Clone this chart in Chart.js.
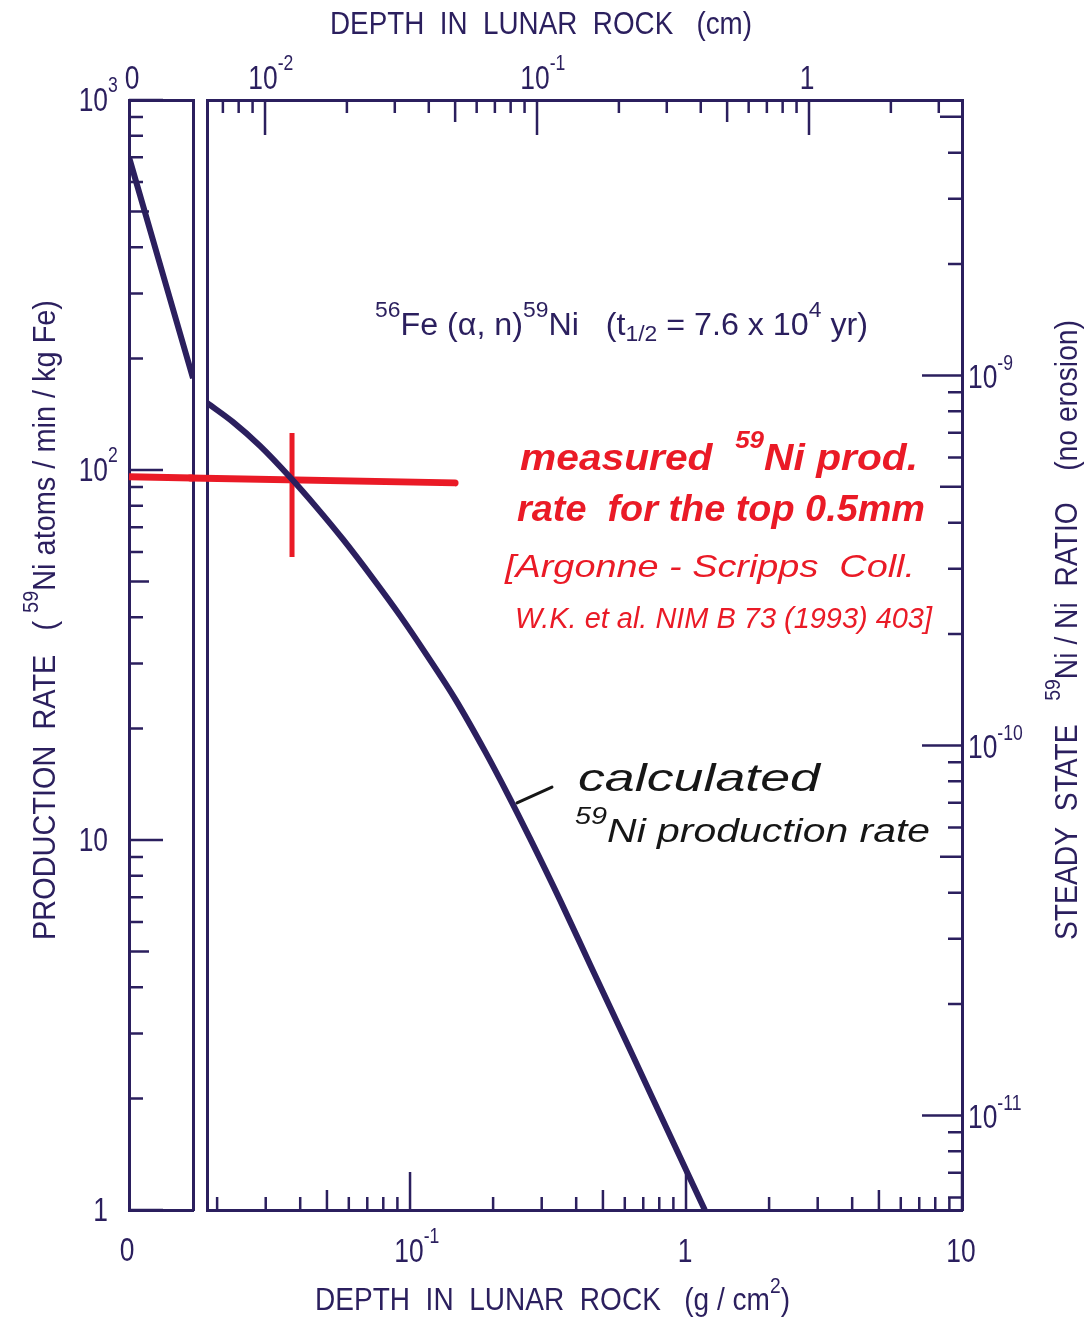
<!DOCTYPE html>
<html>
<head>
<meta charset="utf-8">
<script src="https://cdn.jsdelivr.net/npm/chart.js@4.4.1/dist/chart.umd.min.js"></script>
<style>
  html, body { margin: 0; padding: 0; background: #ffffff; }
  #wrap { position: relative; width: 1088px; height: 1322px; background: #ffffff; }
  #wrap canvas { position: absolute; left: 0; top: 0; }
</style>
</head>
<body>
<div id="wrap">
  <canvas id="cL" width="1088" height="1322"></canvas>
  <canvas id="cR" width="1088" height="1322"></canvas>
</div>
<script>
// ---------------- DATA ----------------
// Surface panel (linear depth, g/cm^2)
const panelDepth = [0, 0.002, 0.004];
const panelRate  = [701, 352, 177];
// Main panel: calculated 59Ni production rate vs depth (g/cm^2)
const depth = [0.0184, 0.0228, 0.0286, 0.0367, 0.046, 0.0572, 0.0734, 0.092, 0.115, 0.146, 0.187, 0.2265, 0.2721, 0.3496, 0.449, 0.627, 0.875, 1.17];
const rate  = [151.8, 134.9, 116.2, 95.7, 79.0, 64.9, 50.9, 40.4, 31.6, 24.0, 17.36, 13.25, 10.1, 6.88, 4.61, 2.71, 1.59, 1.0];
// Measured production rate (red cross)
const measDepthPanel = [0, 0.004];
const measRatePanel  = [95.9, 95.2];
const measDepth = [0.01595, 0.1456];
const measRate  = [95.2, 92.3];
const measErrDepth = [0.03736, 0.03736];
const measErrRate  = [125.9, 58.2];
// Pointer stroke of the "calculated" note
const pointerDepth = [0.2442, 0.3268];
const pointerRate  = [12.6, 13.9];

// Tick values and labels
const rateTicks = [1, 10, 100, 1000];
const rateTickLabels = [['1', ''], ['10', ''], ['10', '2'], ['10', '3']];
const rateMedium = [5, 50, 500];
const rateMinor = [2, 3, 4, 6, 7, 8, 9, 20, 30, 40, 60, 70, 80, 90, 200, 300, 400, 600, 700, 800, 900];

const gcmTicks = [0.1, 1, 10];
const gcmTickLabels = [['10', '-1'], ['1', ''], ['10', '']];
const gcmMedium = [0.05, 0.5, 5];
const gcmMinor = [0.02, 0.03, 0.04, 0.06, 0.07, 0.08, 0.09, 0.2, 0.3, 0.4, 0.6, 0.7, 0.8, 0.9, 2, 3, 4, 6, 7, 8, 9];

const cmTicks = [0.01, 0.1, 1];
const cmTickLabels = [['10', '-2'], ['10', '-1'], ['1', '']];
const cmMedium = [0.05, 0.5];
const cmMinor = [0.007, 0.008, 0.009, 0.02, 0.03, 0.04, 0.06, 0.07, 0.08, 0.09, 0.2, 0.3, 0.4, 0.6, 0.7, 0.8, 0.9, 2, 3];

const ratioTicks = [1e-9, 1e-10, 1e-11];
const ratioTickLabels = [['10', '-9'], ['10', '-10'], ['10', '-11']];
const ratioMedium = [5e-9, 5e-10, 5e-11];
const ratioMinor = [2e-9, 3e-9, 4e-9, 2e-10, 3e-10, 4e-10, 6e-10, 7e-10, 8e-10, 9e-10,
                    2e-11, 3e-11, 4e-11, 6e-11, 7e-11, 8e-11, 9e-11, 6e-12, 7e-12, 8e-12, 9e-12];

const panelTicks = [0];
const panelTickLabels = ['0'];

// ---------------- STYLE ----------------
const NAVY = '#2b1f5e';
const RED = '#ea1a26';
const INK = '#161616';
const FONT = '"Liberation Sans", Arial, sans-serif';

function drawRich(ctx, segs, o) {
  ctx.save();
  ctx.fillStyle = o.color || NAVY;
  ctx.textBaseline = 'middle';
  ctx.textAlign = 'left';
  const supK = o.supK || 0.68, supR = o.supR || 0.45;
  const fontOf = (k) => `${o.style || 'normal'} ${o.weight || 'normal'} ${Math.round(o.size * k)}px ${o.family || FONT}`;
  let nat = 0; const ws = [];
  for (const s of segs) {
    ctx.font = fontOf(s.v ? supK : 1);
    const w = ctx.measureText(s.t).width; ws.push(w); nat += w;
  }
  const sx = o.width ? o.width / nat : (o.sx || 1);
  const total = nat * sx;
  ctx.translate(o.x, o.y);
  if (o.rot) ctx.rotate(o.rot);
  const start = o.align === 'center' ? -total / 2 : (o.align === 'right' ? -total : 0);
  ctx.translate(start, 0);
  ctx.scale(sx, 1);
  let cx = 0;
  segs.forEach((s, i) => {
    ctx.font = fontOf(s.v ? supK : 1);
    const dy = s.v === 'sup' ? -o.size * supR : (s.v === 'sub' ? o.size * 0.3 : 0);
    ctx.fillText(s.t, cx, dy);
    cx += ws[i];
  });
  ctx.restore();
}

const TICK_SIZE = 33, TICK_SX = 0.8;
function drawPow(ctx, base, exp, x, y, anchor) {
  ctx.save();
  ctx.font = `${TICK_SIZE}px ${FONT}`;
  const bw = ctx.measureText(base).width * TICK_SX;
  ctx.restore();
  const left = anchor === 'center' ? x - bw / 2 : (anchor === 'right' ? x - bw : x);
  const segs = [{ t: base }];
  if (exp) segs.push({ t: exp, v: 'sup' });
  drawRich(ctx, segs, { x: left, y, size: TICK_SIZE, sx: TICK_SX, color: NAVY, align: 'left', supK: 0.68, supR: 0.48 });
}

function drawTicks(chart, scaleId, values, len, side) {
  const s = chart.scales[scaleId];
  const a = chart.chartArea;
  const ctx = chart.ctx;
  ctx.save();
  ctx.strokeStyle = NAVY;
  ctx.lineWidth = 2.5;
  ctx.beginPath();
  for (const v of values) {
    const p = s.getPixelForValue(v);
    if (side === 'bottom') { ctx.moveTo(p, a.bottom); ctx.lineTo(p, a.bottom - len); }
    if (side === 'top') { ctx.moveTo(p, a.top); ctx.lineTo(p, a.top + len); }
    if (side === 'left') { ctx.moveTo(a.left, p); ctx.lineTo(a.left + len, p); }
    if (side === 'right') { ctx.moveTo(a.right, p); ctx.lineTo(a.right - len, p); }
  }
  ctx.stroke();
  ctx.restore();
}

const hideTicks = { display: false };
const noGrid = { display: false };
const border = { display: true, color: NAVY, width: 3 };

// ---------------- LEFT (surface) PANEL ----------------
const leftDecor = {
  id: 'leftDecor',
  afterDraw(chart) {
    const ctx = chart.ctx, a = chart.chartArea;
    drawTicks(chart, 'y', rateTicks, 34, 'left');
    drawTicks(chart, 'y', rateMedium, 20, 'left');
    drawTicks(chart, 'y', rateMinor, 14, 'left');
    const y = chart.scales.y;
    rateTicks.forEach((v, i) => drawPow(ctx, rateTickLabels[i][0], rateTickLabels[i][1], a.left - 21, y.getPixelForValue(v) + 2, 'right'));
    const xb = chart.scales.x, xt = chart.scales.x2;
    panelTicks.forEach((v, i) => {
      drawPow(ctx, panelTickLabels[i], '', xb.getPixelForValue(v) - 2, a.bottom + 42, 'center');
      drawPow(ctx, panelTickLabels[i], '', xt.getPixelForValue(v) + 3, a.top - 20, 'center');
    });
    // Left axis title
    drawRich(ctx, [{ t: 'PRODUCTION  RATE   ( ' }, { t: '59', v: 'sup' }, { t: 'Ni atoms / min / kg Fe)' }],
      { x: 46, y: 620, size: 32, width: 640, rot: -Math.PI / 2, align: 'center', color: NAVY, supK: 0.7, supR: 0.45 });
  }
};

new Chart(document.getElementById('cL'), {
  type: 'line',
  data: {
    datasets: [
      { label: 'calculated (surface)', data: panelDepth.map((d, i) => ({ x: d, y: panelRate[i] })),
        borderColor: NAVY, borderWidth: 6, pointRadius: 0, tension: 0 },
      { label: 'measured', data: measDepthPanel.map((d, i) => ({ x: d, y: measRatePanel[i] })),
        borderColor: RED, borderWidth: 7, pointRadius: 0, clip: false }
    ]
  },
  options: {
    responsive: false, animation: false, devicePixelRatio: 1, events: [],
    layout: { padding: { left: 89, right: 885, top: 60, bottom: 72 } },
    plugins: { legend: { display: false }, tooltip: { enabled: false } },
    scales: {
      x:  { type: 'linear', position: 'bottom', min: 0, max: 0.004, ticks: hideTicks, grid: noGrid, border, afterFit(s) { s.height = 40; } },
      x2: { type: 'linear', position: 'top', min: 0, max: 0.004, ticks: hideTicks, grid: noGrid, border, afterFit(s) { s.height = 40; } },
      y:  { type: 'logarithmic', position: 'left', min: 1, max: 1000, ticks: hideTicks, grid: noGrid, border, afterFit(s) { s.width = 40; } },
      yR: { type: 'logarithmic', position: 'right', min: 1, max: 1000, ticks: hideTicks, grid: noGrid, border, afterFit(s) { s.width = 10; } }
    }
  },
  plugins: [leftDecor]
});

// ---------------- MAIN PANEL ----------------
const rightDecor = {
  id: 'rightDecor',
  afterDraw(chart) {
    const ctx = chart.ctx, a = chart.chartArea;
    drawTicks(chart, 'x', gcmTicks, 38, 'bottom');
    drawTicks(chart, 'x', gcmMedium, 20, 'bottom');
    drawTicks(chart, 'x', gcmMinor, 13, 'bottom');
    drawTicks(chart, 'x2', cmTicks, 35, 'top');
    drawTicks(chart, 'x2', cmMedium, 22, 'top');
    drawTicks(chart, 'x2', cmMinor, 13, 'top');
    drawTicks(chart, 'yR', ratioTicks, 40, 'right');
    drawTicks(chart, 'yR', ratioMedium, 22, 'right');
    drawTicks(chart, 'yR', ratioMinor, 14, 'right');

    const xb = chart.scales.x, xt = chart.scales.x2, yr = chart.scales.yR;
    gcmTicks.forEach((v, i) => drawPow(ctx, gcmTickLabels[i][0], gcmTickLabels[i][1], xb.getPixelForValue(v) - 1, a.bottom + 43, 'center'));
    cmTicks.forEach((v, i) => drawPow(ctx, cmTickLabels[i][0], cmTickLabels[i][1], xt.getPixelForValue(v) - 2, a.top - 20, 'center'));
    ratioTicks.forEach((v, i) => drawPow(ctx, ratioTickLabels[i][0], ratioTickLabels[i][1], a.right + 6, yr.getPixelForValue(v) + 4, 'left'));

    // Axis titles
    drawRich(ctx, [{ t: 'DEPTH  IN  LUNAR  ROCK   (cm)' }], { x: 330, y: 25, size: 32, width: 422, color: NAVY });
    drawRich(ctx, [{ t: 'DEPTH  IN  LUNAR  ROCK   (g / cm' }, { t: '2', v: 'sup' }, { t: ')' }],
      { x: 315, y: 1301, size: 32, width: 475, color: NAVY, supK: 0.7, supR: 0.45 });
    drawRich(ctx, [{ t: 'STEADY  STATE   ' }, { t: '59', v: 'sup' }, { t: 'Ni / Ni  RATIO    (no erosion)' }],
      { x: 1068, y: 630, size: 32, width: 620, rot: -Math.PI / 2, align: 'center', color: NAVY, supK: 0.7, supR: 0.45 });

    // Reaction annotation
    drawRich(ctx, [{ t: '56', v: 'sup' }, { t: 'Fe (\u03b1, n)' }, { t: '59', v: 'sup' }, { t: 'Ni   (t' }, { t: '1/2', v: 'sub' },
      { t: ' = 7.6 x 10' }, { t: '4', v: 'sup' }, { t: ' yr)' }],
      { x: 375, y: 326, size: 31, width: 493, color: NAVY, supK: 0.72, supR: 0.5 });

    // Handwritten notes (red)
    drawRich(ctx, [{ t: 'measured  ' }, { t: '59', v: 'sup' }, { t: 'Ni prod.' }],
      { x: 520, y: 460, size: 36, width: 398, color: RED, weight: 'bold', style: 'italic', supK: 0.65, supR: 0.5 });
    drawRich(ctx, [{ t: 'rate  for the top 0.5mm' }],
      { x: 517, y: 511, size: 36, width: 408, color: RED, weight: 'bold', style: 'italic' });
    drawRich(ctx, [{ t: '[Argonne - Scripps  Coll.' }],
      { x: 505, y: 568, size: 32, width: 410, color: RED, style: 'italic' });
    drawRich(ctx, [{ t: 'W.K. et al. NIM B 73 (1993) 403]' }],
      { x: 515, y: 620, size: 30, width: 417, color: RED, style: 'italic' });

    // Handwritten notes (black)
    drawRich(ctx, [{ t: 'calculated' }], { x: 578, y: 780, size: 38, width: 242, color: INK, style: 'italic' });
    drawRich(ctx, [{ t: '59', v: 'sup' }, { t: 'Ni production rate' }],
      { x: 575, y: 833, size: 34, width: 355, color: INK, style: 'italic', supK: 0.7, supR: 0.45 });
  }
};

new Chart(document.getElementById('cR'), {
  type: 'line',
  data: {
    datasets: [
      { label: 'calculated 59Ni production rate', data: depth.map((d, i) => ({ x: d, y: rate[i] })),
        borderColor: NAVY, borderWidth: 6, pointRadius: 0, cubicInterpolationMode: 'monotone' },
      { label: 'measured rate', data: measDepth.map((d, i) => ({ x: d, y: measRate[i] })),
        borderColor: RED, borderWidth: 7, pointRadius: 0, clip: false, borderCapStyle: 'round' },
      { label: 'measured range', data: measErrDepth.map((d, i) => ({ x: d, y: measErrRate[i] })),
        borderColor: RED, borderWidth: 5, pointRadius: 0, clip: false },
      { label: 'pointer', data: pointerDepth.map((d, i) => ({ x: d, y: pointerRate[i] })),
        borderColor: INK, borderWidth: 3, pointRadius: 0, borderCapStyle: 'round' }
    ]
  },
  options: {
    responsive: false, animation: false, devicePixelRatio: 1, events: [],
    layout: { padding: { left: 197, right: 86, top: 60, bottom: 72 } },
    plugins: { legend: { display: false }, tooltip: { enabled: false } },
    scales: {
      x:  { type: 'logarithmic', position: 'bottom', min: 0.01838, max: 10, ticks: hideTicks, grid: noGrid, border, afterFit(s) { s.height = 40; } },
      x2: { type: 'logarithmic', position: 'top', min: 0.006119, max: 3.652, ticks: hideTicks, grid: noGrid, border, afterFit(s) { s.height = 40; } },
      y:  { type: 'logarithmic', position: 'left', min: 1, max: 1000, ticks: hideTicks, grid: noGrid, border, afterFit(s) { s.width = 10; } },
      yR: { type: 'logarithmic', position: 'right', min: 5.55e-12, max: 5.55e-9, ticks: hideTicks, grid: noGrid, border, afterFit(s) { s.width = 40; } }
    }
  },
  plugins: [rightDecor]
});
</script>
</body>
</html>
